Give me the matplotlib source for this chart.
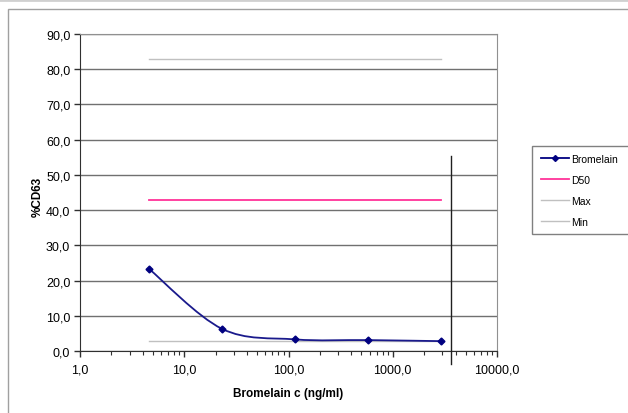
import numpy as np
import matplotlib
matplotlib.use("Agg")
import matplotlib.pyplot as plt
from matplotlib.path import Path
from matplotlib.patches import PathPatch, Rectangle
from matplotlib.lines import Line2D
from matplotlib.ticker import LogLocator, FixedLocator, FuncFormatter

plt.rcParams['font.family'] = ['Liberation Sans', 'DejaVu Sans']

conc = [4.6, 23.0, 115.0, 575.0, 2875.0]
bromelain = [23.3, 6.3, 3.3, 3.1, 2.8]
d50 = [43.0, 43.0, 43.0, 43.0, 43.0]
max_line = [83.0, 83.0, 83.0, 83.0, 83.0]
min_line = [2.9, 2.9, 2.9, 2.9, 2.9]
marker_x = 3630.0
series_names = ["Bromelain", "D50", "Max", "Min"]
xticks = [1, 10, 100, 1000, 10000]
yticks = [0, 10, 20, 30, 40, 50, 60, 70, 80, 90]

fig = plt.figure(figsize=(6.28, 4.14), dpi=100)
# outer chart area frame
fig.add_artist(Rectangle((8/628, -0.01), 1.0, 1 - 10/414 + 0.01, transform=fig.transFigure,
                         fill=False, edgecolor='#a0a0a0', linewidth=1.0))
fig.add_artist(Line2D([0, 1], [0.997, 0.997], transform=fig.transFigure, color='#d0d0d0', lw=2))

ax = fig.add_axes([80/628, 62/414, 417/628, 317/414])
ax.set_xscale('log')
ax.set_xlim(1, 10000)
ax.set_ylim(0, 90)

# smooth Excel-like curve (Bezier through data points, in log-x space)
lx = np.log10(conc)
yy = np.array(bromelain)
pts = np.column_stack([lx, yy])
verts = [pts[0]]
codes = [Path.MOVETO]
n = len(pts)
for i in range(n - 1):
    p0 = pts[i - 1] if i > 0 else pts[i]
    p1 = pts[i]
    p2 = pts[i + 1]
    p3 = pts[i + 2] if i + 2 < n else pts[i + 1]
    c1 = p1 + (p2 - p0) / 6.0
    c2 = p2 - (p3 - p1) / 6.0
    verts += [c1, c2, p2]
    codes += [Path.CURVE4] * 3
verts = np.array(verts)
verts[:, 0] = 10 ** verts[:, 0]
ax.add_patch(PathPatch(Path(verts, codes), facecolor='none', edgecolor='#1a1a8c', lw=1.3, zorder=4))
ax.plot(conc, bromelain, linestyle='none', marker='D', ms=3.5, color='#000080', zorder=5)

ax.plot(conc, d50, color='#ff3399', lw=1.3, zorder=3)
ax.plot(conc, max_line, color='#c0c0c0', lw=1.0, zorder=3)
ax.plot(conc, min_line, color='#c0c0c0', lw=1.0, zorder=3)

# stray vertical line
ax.plot([marker_x, marker_x], [-3.7, 55.5], color='#202020', lw=1.0, clip_on=False, zorder=6)

# grid & spines
ax.yaxis.set_major_locator(FixedLocator(yticks))
ax.grid(axis='y', color='#707070', lw=1.0)
ax.set_axisbelow(True)
for s in ['top', 'right']:
    ax.spines[s].set_color('#909090')
ax.spines['left'].set_color('#303030')
ax.spines['bottom'].set_color('#303030')

ax.xaxis.set_major_locator(FixedLocator(xticks))
ax.xaxis.set_minor_locator(LogLocator(base=10, subs=np.arange(2, 10)))
ax.xaxis.set_minor_formatter(FuncFormatter(lambda v, p: ''))
fmt = FuncFormatter(lambda v, p: f"{v:.1f}".replace('.', ','))
ax.xaxis.set_major_formatter(fmt)
ax.yaxis.set_major_formatter(fmt)
ax.tick_params(axis='both', which='major', length=4, width=1, color='#303030', labelsize=9, pad=3)
ax.tick_params(axis='x', which='major', pad=5)
ax.tick_params(axis='x', which='minor', length=3, width=0.8, color='#303030')

ax.set_xlabel("Bromelain c (ng/ml)", fontsize=8.5, fontweight='bold', labelpad=8)
ax.set_ylabel("%CD63", fontsize=8.5, fontweight='bold')
ax.yaxis.set_label_coords(-0.087, 0.49)

# legend frame extending past the right edge, as in the reference
fig.add_artist(Rectangle((532/628, 1 - 235/414), 110/628, 88/414, transform=fig.transFigure,
                         fill=True, facecolor='white', edgecolor='#808080', linewidth=1.0))

handles = [
    Line2D([], [], color='#000080', marker='D', ms=3, lw=1.3),
    Line2D([], [], color='#ff3399', lw=1.3),
    Line2D([], [], color='#c0c0c0', lw=1.0),
    Line2D([], [], color='#c0c0c0', lw=1.0),
]
leg = fig.legend(handles, series_names, loc='upper left', bbox_to_anchor=(533/628, 1 - 147/414),
                 fontsize=7.5, frameon=False,
                 handlelength=2.7, handletextpad=0.2, labelspacing=1.05, borderpad=0.75,
                 borderaxespad=0)

fig.savefig("out.png", dpi=100)
